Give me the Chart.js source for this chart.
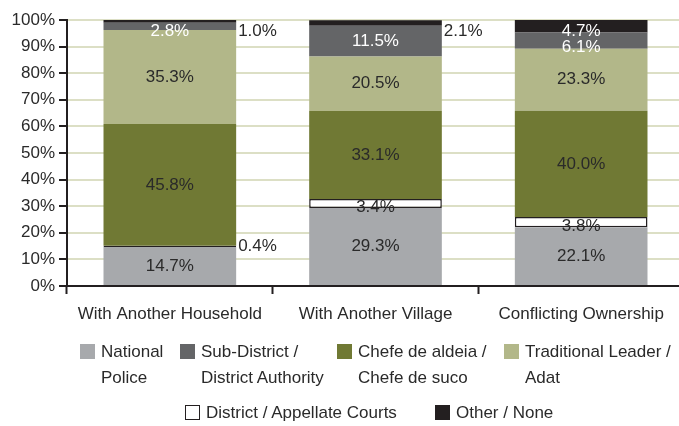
<!DOCTYPE html>
<html>
<head>
<meta charset="utf-8">
<script src="https://cdn.jsdelivr.net/npm/chart.js@4.4.1/dist/chart.umd.min.js"></script>
<style>
  html, body { margin: 0; padding: 0; background: #fff; }
  #wrap { position: relative; width: 679px; height: 426px; overflow: hidden; }
  canvas { position: absolute; left: 0; top: 0; }
  .lg { position: absolute; font-family: "Liberation Sans", Arial, sans-serif; font-size: 17px; line-height: 26px; color: #2a2a2a; white-space: nowrap; }
  .box { position: absolute; width: 15px; height: 15px; box-sizing: border-box; }
</style>
</head>
<body>
<div id="wrap">
  <canvas id="c" width="684" height="426"></canvas>
</div>
<script>
const categories = ["With Another Household", "With Another Village", "Conflicting Ownership"];
const nationalPolice = [14.7, 29.3, 22.1];
const districtCourts = [0.4, 3.4, 3.8];
const chefe = [45.8, 33.1, 40.0];
const traditional = [35.3, 20.5, 23.3];
const subDistrict = [2.8, 11.5, 6.1];
const otherNone = [1.0, 2.1, 4.7];
const yTicks = [0, 10, 20, 30, 40, 50, 60, 70, 80, 90, 100];

const FONT = '"Liberation Sans", Arial, sans-serif';
const DARK = '#231f20';
const TXT = '#2a2a2a';

const series = [
  { label: "National Police", lines: ["National", "Police"], data: nationalPolice, color: '#a7a9ac', text: TXT },
  { label: "District / Appellate Courts", lines: ["District / Appellate Courts"], data: districtCourts, color: '#ffffff', border: DARK, text: TXT },
  { label: "Chefe de aldeia / Chefe de suco", lines: ["Chefe de aldeia /", "Chefe de suco"], data: chefe, color: '#707934', text: TXT },
  { label: "Traditional Leader / Adat", lines: ["Traditional Leader /", "Adat"], data: traditional, color: '#b2b789', text: TXT },
  { label: "Sub-District / District Authority", lines: ["Sub-District /", "District Authority"], data: subDistrict, color: '#646567', text: '#ffffff' },
  { label: "Other / None", lines: ["Other / None"], data: otherNone, color: DARK, text: '#ffffff' }
];

const datasets = series.map(s => ({
  label: s.label,
  data: s.data,
  backgroundColor: s.color,
  borderColor: s.border || s.color,
  borderWidth: s.border ? 1.5 : 0,
  borderSkipped: false,
  barPercentage: 0.645,
  categoryPercentage: 1.0,
  textColor: s.text
}));

const labelPlugin = {
  id: 'segLabels',
  afterDatasetsDraw(chart) {
    const ctx = chart.ctx;
    const top = chart.chartArea.top;
    ctx.save();
    ctx.font = '17px ' + FONT;
    ctx.textBaseline = 'middle';
    chart.data.labels.forEach((_, i) => {
      // collect labels for this bar, top to bottom
      const items = [];
      chart.data.datasets.forEach((ds, di) => {
        const bar = chart.getDatasetMeta(di).data[i];
        const v = ds.data[i];
        const yTop = Math.min(bar.y, bar.base);
        const yBot = Math.max(bar.y, bar.base);
        items.push({ ds, bar, v, cy: (yTop + yBot) / 2 });
      });
      items.sort((a, b) => a.cy - b.cy);
      let prev = -Infinity;
      items.forEach(it => {
        const txt = it.v.toFixed(1) + '%';
        let cy = Math.max(it.cy, top + 11);
        if (it.v < 2.5) {
          ctx.fillStyle = TXT;
          ctx.textAlign = 'left';
          ctx.fillText(txt, it.bar.x + it.bar.width / 2 + 2, cy);
        } else {
          cy = Math.max(cy, prev + 16);
          prev = cy;
          ctx.fillStyle = it.ds.textColor;
          ctx.textAlign = 'center';
          ctx.fillText(txt, it.bar.x, cy + (it.v < 5 && it.ds.textColor === TXT ? 4 : 0));
        }
      });
    });
    ctx.restore();
  }
};

new Chart(document.getElementById('c'), {
  type: 'bar',
  data: { labels: categories, datasets },
  plugins: [labelPlugin],
  options: {
    responsive: false,
    animation: false,
    layout: { padding: { top: 20, left: 0, right: 0, bottom: 100 } },
    plugins: { legend: { display: false }, tooltip: { enabled: false } },
    scales: {
      x: {
        stacked: true,
        afterFit(scale) { scale.height = 40; },
        grid: { offset: true, drawOnChartArea: false, drawTicks: true, tickLength: 8, tickColor: DARK, tickWidth: 2 },
        border: { color: DARK, width: 2 },
        ticks: { color: TXT, font: { family: FONT, size: 17 }, padding: 10, maxRotation: 0, autoSkip: false }
      },
      y: {
        stacked: true,
        min: 0, max: 100,
        afterFit(scale) { scale.width = 67; },
        afterBuildTicks(scale) { scale.ticks = yTicks.map(v => ({ value: v })); },
        grid: { color: '#dcdfc5', lineWidth: 2, tickLength: 8, tickColor: DARK, tickWidth: 2 },
        border: { color: DARK, width: 2 },
        ticks: { color: TXT, font: { family: FONT, size: 17 }, padding: 4, autoSkip: false, callback: v => v + '%' }
      }
    }
  }
});

// HTML legend
const wrap = document.getElementById('wrap');
const legendPos = [
  { s: 0, x: 80, y: 339 },
  { s: 4, x: 180, y: 339 },
  { s: 2, x: 337, y: 339 },
  { s: 3, x: 504, y: 339 },
  { s: 1, x: 185, y: 400 },
  { s: 5, x: 435, y: 400 }
];
legendPos.forEach(p => {
  const s = series[p.s];
  const b = document.createElement('div');
  b.className = 'box';
  b.style.left = p.x + 'px';
  b.style.top = (p.y + 5) + 'px';
  b.style.background = s.color;
  if (s.border) b.style.border = '1.2px solid ' + s.border;
  wrap.appendChild(b);
  const t = document.createElement('div');
  t.className = 'lg';
  t.style.left = (p.x + 21) + 'px';
  t.style.top = p.y + 'px';
  t.innerHTML = s.lines.join('<br>');
  wrap.appendChild(t);
});
</script>
</body>
</html>
